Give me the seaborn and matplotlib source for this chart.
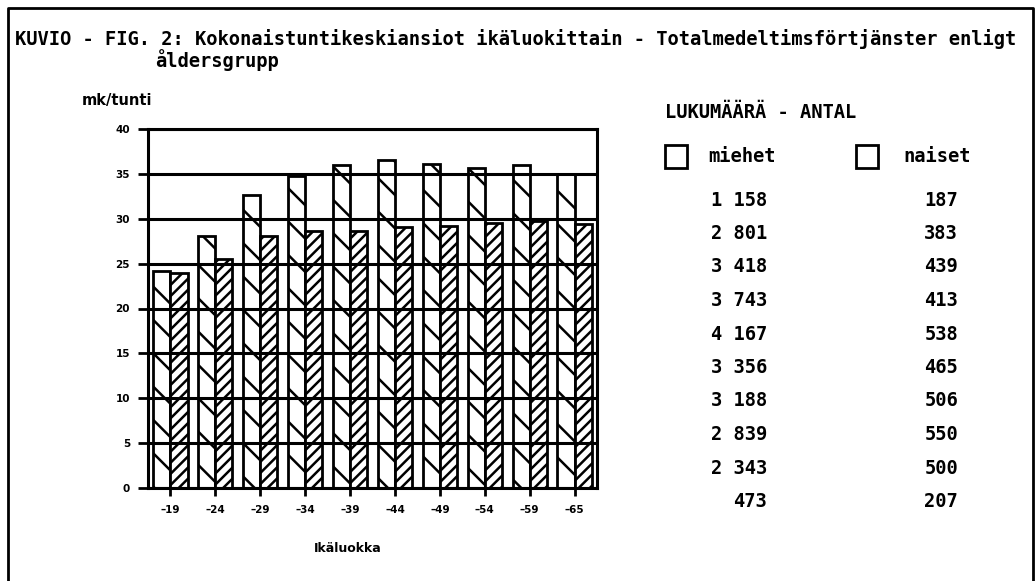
import numpy as np
import pandas as pd
import seaborn as sns
import matplotlib.pyplot as plt
from matplotlib.patches import Rectangle
from matplotlib.lines import Line2D

# Data
age_groups = ['–19', '–24', '–29', '–34', '–39', '–44', '–49', '–54', '–59', '–65']
men_wage = [24.2, 28.1, 32.6, 34.8, 36.0, 36.6, 36.1, 35.6, 36.0, 35.0]
women_wage = [23.9, 25.5, 28.1, 28.6, 28.6, 29.1, 29.2, 29.5, 29.7, 29.4]
men_count = [1158, 2801, 3418, 3743, 4167, 3356, 3188, 2839, 2343, 473]
women_count = [187, 383, 439, 413, 538, 465, 506, 550, 500, 207]
y_ticks = [0, 5, 10, 15, 20, 25, 30, 35, 40]

title_1 = 'KUVIO - FIG. 2: Kokonaistuntikeskiansiot ikäluokittain - Totalmedeltimsförtjänster enligt'
title_2 = 'åldersgrupp'

df = pd.DataFrame({
    'age': age_groups * 2,
    'wage': men_wage + women_wage,
    'sex': ['miehet'] * len(age_groups) + ['naiset'] * len(age_groups),
})

W, H = 1036, 581
mono = 'DejaVu Sans Mono'


def fx(x, y):
    # pixel position -> figure fraction
    return x / W, 1 - y / H


sns.set_style('white')
plt.rcParams['hatch.linewidth'] = 1.8
plt.rcParams['text.color'] = 'black'
plt.rcParams['xtick.color'] = 'black'
plt.rcParams['ytick.color'] = 'black'

fig = plt.figure(figsize=(W / 100, H / 100), dpi=100)
ax = fig.add_axes([148 / W, 1 - 488 / H, 449 / W, 359 / H])

sns.barplot(data=df, x='age', y='wage', hue='sex', order=age_groups,
            palette=['white', 'white'], edgecolor='black', linewidth=2,
            width=0.76, legend=False, ax=ax)

for container, hatch in zip(ax.containers, ['\\', '///']):
    for bar in container:
        bar.set_hatch(hatch)
        bar.set_edgecolor('black')

ax.set_ylim(0, 40)
ax.set_yticks(y_ticks)
ax.yaxis.grid(True, color='black', linewidth=2.2)
ax.xaxis.grid(False)
ax.set_axisbelow(False)
for s in ax.spines.values():
    s.set_visible(True)
    s.set_color('black')
    s.set_linewidth(2.2)
ax.tick_params(axis='y', direction='out', length=7, width=2, left=True,
               labelsize=7.5, pad=6, colors='black')
ax.tick_params(axis='x', direction='out', length=6, width=2, bottom=True,
               labelsize=7.5, pad=6, colors='black')
for lab in ax.get_xticklabels() + ax.get_yticklabels():
    lab.set_fontweight('bold')
ax.set_xlabel('')
ax.set_ylabel('')

fig.text(*fx(82, 101), 'mk/tunti', fontsize=10.5, fontweight='bold', va='center', ha='left')
fig.text(*fx(348, 548), 'Ikäluokka', fontsize=9, fontweight='bold', va='center', ha='center')

# title
fig.text(*fx(15, 39), title_1, family=mono, fontsize=13.5, fontweight='bold', va='center', ha='left')
fig.text(*fx(155, 60), title_2, family=mono, fontsize=13.5, fontweight='bold', va='center', ha='left')

# counts table
fig.text(*fx(665, 112), 'LUKUMÄÄRÄ - ANTAL', family=mono, fontsize=13.5, fontweight='bold', va='center', ha='left')
for x0, label, tx in [(665, 'miehet', 708), (856, 'naiset', 903)]:
    x, y = fx(x0, 168)
    fig.add_artist(Rectangle((x, y), 22 / W, 23 / H, transform=fig.transFigure,
                             facecolor='white', edgecolor='black', linewidth=2))
    fig.text(*fx(tx, 156), label, family=mono, fontsize=13.5, fontweight='bold', va='center', ha='left')

for i, (m, n) in enumerate(zip(men_count, women_count)):
    y = 200 + i * 33.5
    fig.text(*fx(767, y), f'{m:,}'.replace(',', ' '), family=mono, fontsize=13.5,
             fontweight='bold', va='center', ha='right')
    fig.text(*fx(958, y), f'{n:,}'.replace(',', ' '), family=mono, fontsize=13.5,
             fontweight='bold', va='center', ha='right')

# outer frame (open at the bottom)
xs = [8 / W, 8 / W, 1033 / W, 1033 / W]
ys = [0, 1 - 8 / H, 1 - 8 / H, 0]
fig.add_artist(Line2D(xs, ys, transform=fig.transFigure, color='black', linewidth=2))

fig.savefig('out.png', dpi=100)
